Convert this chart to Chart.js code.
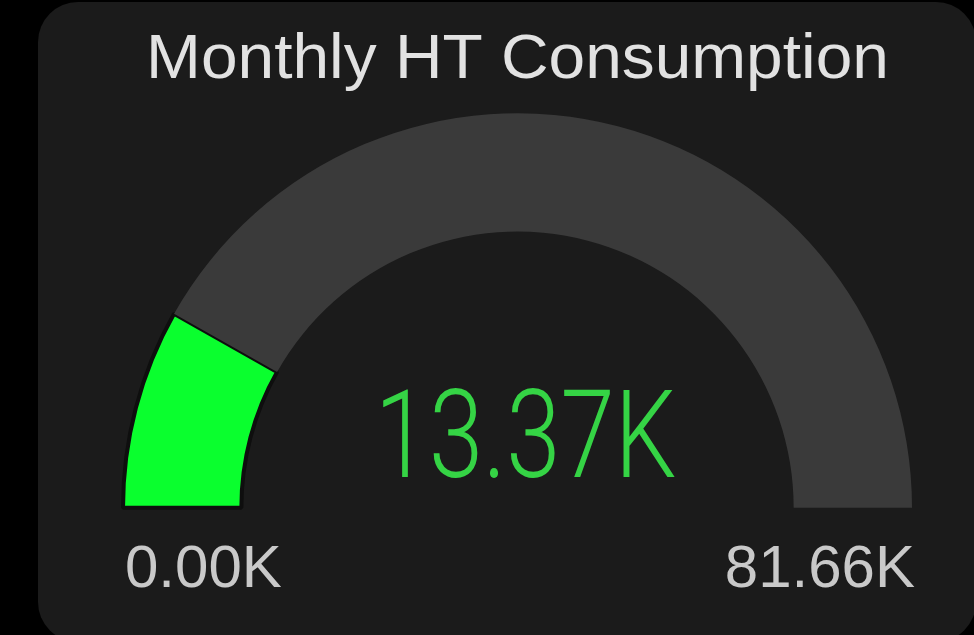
<!DOCTYPE html>
<html>
<head>
<meta charset="utf-8">
<script src="https://cdn.jsdelivr.net/npm/chart.js@4/dist/chart.umd.min.js"></script>
<style>
  html, body { margin: 0; padding: 0; background: #000; }
  #wrap { position: relative; width: 974px; height: 635px; overflow: hidden; background: #000; }
  #panel { position: absolute; left: 38px; top: 2px; width: 938px; height: 640px; background: #1b1b1b; border-radius: 40px; }
  #gauge { position: absolute; left: 0; top: 0; }
</style>
</head>
<body>
<div id="wrap">
  <div id="panel"></div>
  <canvas id="gauge" width="974" height="635"></canvas>
</div>
<script>
const title = "Monthly HT Consumption"
const value = 13.37      // K
const maxValue = 81.66   // K
const minValue = 0
const unit = "K"

// draws the title, the centre value and the min / max labels
const gaugeText = {
  id: 'gaugeText',
  afterDraw(chart) {
    const ctx = chart.ctx
    const arc = chart.getDatasetMeta(0).data[0]
    const cx = arc.x, cy = arc.y, r = arc.outerRadius
    ctx.save()
    ctx.textBaseline = 'alphabetic'

    ctx.fillStyle = '#e2e2e2'
    ctx.textAlign = 'center'
    ctx.font = '63px "Liberation Sans", Arial, sans-serif'
    ctx.save()
    ctx.translate(cx, 78)
    ctx.scale(1.045, 1)
    ctx.fillText(title, 0, 0)
    ctx.restore()

    ctx.fillStyle = '#c9c9c9'
    ctx.font = '60px "Liberation Sans", Arial, sans-serif'
    ctx.textAlign = 'left'
    ctx.fillText(minValue.toFixed(2) + unit, cx - r + 2, 587)
    ctx.textAlign = 'right'
    ctx.fillText(maxValue.toFixed(2) + unit, cx + r + 3, 587)

    // thin condensed-looking number
    ctx.fillStyle = '#35d445'
    ctx.font = '300 122px Roboto, sans-serif'
    ctx.textAlign = 'center'
    ctx.translate(cx + 8, 477)
    ctx.scale(0.8, 1)
    ctx.fillText(value.toFixed(2) + unit, 0, 0)
    ctx.restore()
  }
}

new Chart(document.getElementById('gauge'), {
  type: 'doughnut',
  data: {
    labels: ['Consumed', 'Remaining'],
    datasets: [{
      data: [value - minValue, maxValue - value],
      backgroundColor: ['#0aff2e', '#3a3a3a'],
      borderColor: ['#0e0e0e', '#1b1b1b'],
      borderWidth: [4, 0],
      hoverOffset: 0
    }]
  },
  options: {
    responsive: false,
    animation: false,
    rotation: -90,
    circumference: 180,
    cutout: '70%',
    layout: { padding: { left: 121, right: 60, top: 110, bottom: 124 } },
    plugins: {
      legend: { display: false },
      tooltip: { enabled: false }
    }
  },
  plugins: [gaugeText]
})
</script>
</body>
</html>
